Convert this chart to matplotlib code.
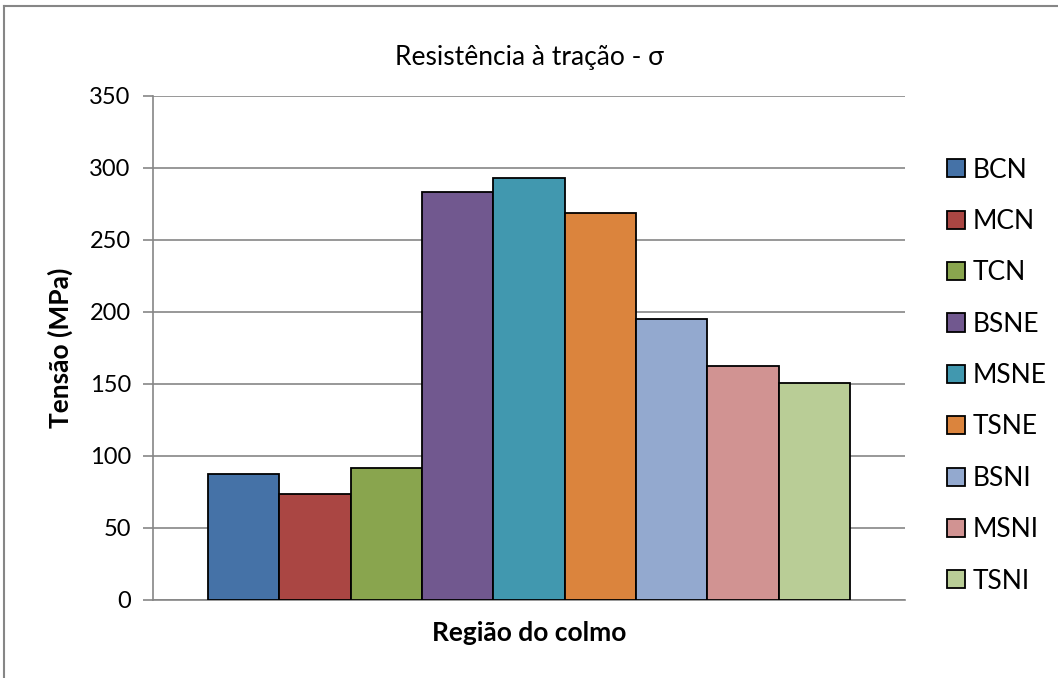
import numpy as np
import matplotlib
matplotlib.use("Agg")
import matplotlib.pyplot as plt
from matplotlib.lines import Line2D

plt.rcParams['font.family'] = ['Lato', 'DejaVu Sans']

# tensile strength per bamboo region (MPa)
series = ['BCN', 'MCN', 'TCN', 'BSNE', 'MSNE', 'TSNE', 'BSNI', 'MSNI', 'TSNI']
tensao = [87.4, 73.8, 91.4, 283.4, 293.1, 268.8, 195.1, 162.5, 150.7]
colors = ['#4572A7', '#AA4643', '#89A54E', '#71588F', '#4198AF',
          '#DB843D', '#93A9CF', '#D19392', '#B9CD96']
yticks = [0, 50, 100, 150, 200, 250, 300, 350]

W, H = 1058, 678
fig = plt.figure(figsize=(W / 100, H / 100), dpi=100)
ax = fig.add_axes([153 / W, 78 / H, 752 / W, 504 / H])

x = np.arange(len(series))
bars = ax.bar(x, tensao, width=1.0, color=colors, edgecolor='black',
              linewidth=1.3, label=series, zorder=3)

gap = 0.77
ax.set_xlim(-0.5 - gap, len(series) - 0.5 + gap)
ax.set_ylim(0, 350)
ax.set_yticks(yticks)
ax.set_xticks([])
ax.yaxis.grid(True, color='#868686', linewidth=1.2, zorder=0)
for s in ['top', 'right']:
    ax.spines[s].set_visible(False)
for s in ['left', 'bottom']:
    ax.spines[s].set_color('#868686')
    ax.spines[s].set_linewidth(1.2)
ax.tick_params(axis='y', length=7, width=1.2, color='#868686',
               labelsize=17, pad=9)

ax.set_title('Resistência à tração - σ', fontsize=19, pad=22)
ax.set_ylabel('Tensão (MPa)', fontsize=19, fontweight='bold')
ax.set_xlabel('Região do colmo', fontsize=19, fontweight='bold')
ax.yaxis.set_label_coords(-0.106, 0.5)
ax.xaxis.set_label_coords(0.5, -0.042)

# one legend entry per bar
handles = [plt.Rectangle((0, 0), 1, 1, facecolor=c, edgecolor='black', lw=1.3)
           for c in colors]
fig.legend(handles, series, loc='upper left', bbox_to_anchor=(936 / W, 1 - 147 / H),
           frameon=False, fontsize=19, handlelength=0.68, handleheight=0.68,
           handletextpad=0.3, labelspacing=1.0, borderaxespad=0)

# chart border
fig.add_artist(Line2D([4 / W, 4 / W], [0, 1 - 6 / H], color='#868686', lw=1.5))
fig.add_artist(Line2D([4 / W, 1], [1 - 6 / H, 1 - 6 / H], color='#868686', lw=1.5))

fig.savefig('out.png', dpi=100)
